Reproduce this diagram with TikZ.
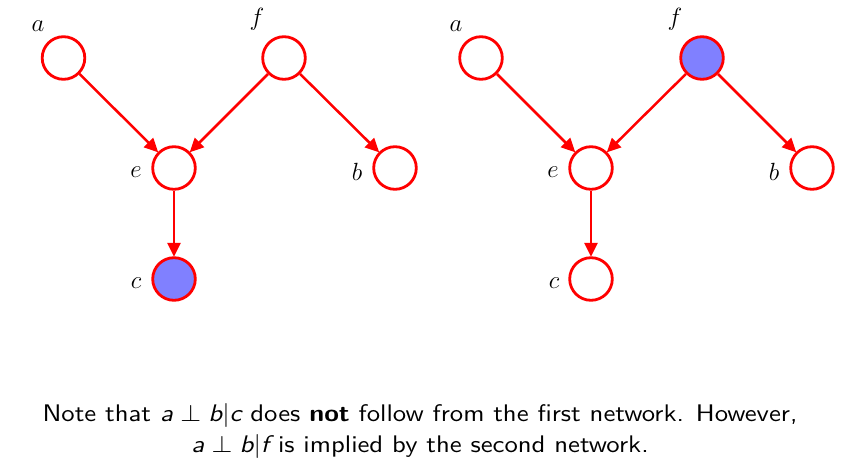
\documentclass[tikz,border=0pt]{standalone}
\usetikzlibrary{arrows.meta}
\definecolor{obsblue}{RGB}{128,128,255}
\begin{document}
\begin{tikzpicture}[x=1pt,y=-1pt,
  var/.style={circle,draw=red,line width=2.8pt,minimum size=42.6pt,inner sep=0pt,fill=white},
  obs/.style={var,fill=obsblue},
  lab/.style={font=\fontsize{30}{30}\selectfont,inner sep=0pt},
  edge/.style={draw=red,line width=2.5pt,-{Triangle[length=14pt,width=13pt]},shorten >=-0.5pt}]
\useasboundingbox (0,0) rectangle (847,462);
% left network
\node[var] (a1) at (63.5,58) {};
\node[var] (f1) at (284,58) {};
\node[var] (e1) at (174,168) {};
\node[var] (b1) at (395,168) {};
\node[obs] (c1) at (174,279) {};
\node[lab] (la1) at (38,26) {$a$};
\node[lab] (lf1) at (257,19) {$f$};
\node[lab] (le1) at (136,172) {$e$};
\node[lab] (lb1) at (357,172) {$b$};
\node[lab] (lc1) at (136,283) {$c$};
\draw[edge] (a1) -- (e1);
\draw[edge] (f1) -- (e1);
\draw[edge] (f1) -- (b1);
\draw[edge] (e1) -- (c1);
% right network
\node[var] (a2) at (481,58) {};
\node[obs] (f2) at (702,58) {};
\node[var] (e2) at (591,168) {};
\node[var] (b2) at (812,168) {};
\node[var] (c2) at (591,279) {};
\node[lab] (la2) at (456,26) {$a$};
\node[lab] (lf2) at (675,19) {$f$};
\node[lab] (le2) at (553,172) {$e$};
\node[lab] (lb2) at (774,172) {$b$};
\node[lab] (lc2) at (554,283) {$c$};
\draw[edge] (a2) -- (e2);
\draw[edge] (f2) -- (e2);
\draw[edge] (f2) -- (b2);
\draw[edge] (e2) -- (c2);
% caption
\node[align=center,font=\sffamily\fontsize{10}{12.9}\selectfont,inner sep=0pt,xscale=2.67,yscale=2.4,transform shape] (cap) at (420,431)
 {Note that $\textit{a}\perp\textit{b}|\textit{c}$ does \textbf{not} follow from the first network. However,\\
  $\textit{a}\perp\textit{b}|\textit{f}$ is implied by the second network.};
\end{tikzpicture}
\end{document}
